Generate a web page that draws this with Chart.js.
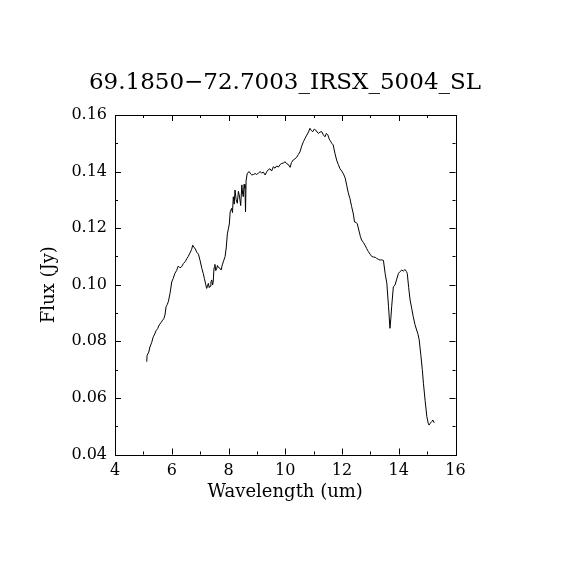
<!DOCTYPE html>
<html>
<head>
<meta charset="utf-8">
<script src="https://cdn.jsdelivr.net/npm/chart.js@4"></script>
<style>
  body { margin: 0; background: #fff; }
  #wrap { width: 570px; height: 570px; }
</style>
</head>
<body>
<div id="wrap"><canvas id="myChart" width="570" height="570"></canvas></div>
<script>
// spectrum
var wavelength = [5.12, 5.13, 5.19, 5.23, 5.29, 5.35, 5.40, 5.45, 5.50, 5.56, 5.62, 5.68, 5.72, 5.76, 5.80, 5.84, 5.88, 5.94, 6.00, 6.05,
  6.11, 6.17, 6.23, 6.29, 6.35, 6.41, 6.47, 6.53, 6.58, 6.64, 6.70, 6.74, 6.78, 6.82, 6.88, 6.94, 7.00, 7.06, 7.11, 7.15,
  7.20, 7.23, 7.26, 7.29, 7.32, 7.35, 7.38, 7.41, 7.44, 7.46, 7.49, 7.52, 7.55, 7.58, 7.61, 7.64, 7.70, 7.74, 7.78, 7.83,
  7.88, 7.92, 7.96, 8.00, 8.03, 8.06, 8.11, 8.14, 8.17, 8.20, 8.23, 8.27, 8.31, 8.35, 8.39, 8.43, 8.47, 8.50, 8.52, 8.55,
  8.58, 8.60, 8.62, 8.66, 8.73, 8.78, 8.82, 8.88, 8.94, 8.99, 9.05, 9.11, 9.17, 9.23, 9.29, 9.35, 9.40, 9.46, 9.52, 9.58,
  9.64, 9.70, 9.76, 9.82, 9.88, 9.94, 9.99, 10.05, 10.11, 10.17, 10.22, 10.28, 10.34, 10.40, 10.46, 10.52, 10.58, 10.64, 10.70, 10.76,
  10.82, 10.87, 10.92, 10.97, 11.02, 11.07, 11.12, 11.17, 11.23, 11.29, 11.34, 11.40, 11.45, 11.50, 11.55, 11.58, 11.64, 11.69, 11.75, 11.81,
  11.87, 11.93, 11.99, 12.05, 12.11, 12.17, 12.22, 12.28, 12.34, 12.40, 12.44, 12.50, 12.54, 12.60, 12.65, 12.69, 12.75, 12.81, 12.87, 12.93,
  12.99, 13.05, 13.11, 13.17, 13.22, 13.28, 13.34, 13.40, 13.46, 13.52, 13.58, 13.64, 13.69, 13.72, 13.75, 13.81, 13.87, 13.93, 13.99, 14.05,
  14.11, 14.16, 14.22, 14.27, 14.30, 14.35, 14.40, 14.46, 14.51, 14.57, 14.63, 14.68, 14.72, 14.78, 14.83, 14.87, 14.93, 14.99, 15.04, 15.07,
  15.12, 15.16, 15.20, 15.25];
var flux = [0.0728, 0.0750, 0.0762, 0.0780, 0.0795, 0.0816, 0.0826, 0.0838, 0.0845, 0.0858, 0.0866, 0.0875, 0.0880, 0.0893, 0.0922, 0.0930, 0.0940, 0.0970, 0.1010, 0.1022,
  0.1040, 0.1050, 0.1066, 0.1060, 0.1064, 0.1075, 0.1081, 0.1092, 0.1100, 0.1112, 0.1125, 0.1140, 0.1132, 0.1129, 0.1115, 0.1108, 0.1085, 0.1058, 0.1040, 0.1022,
  0.1000, 0.0987, 0.0995, 0.1005, 0.0990, 0.0995, 0.1010, 0.1017, 0.1000, 0.1008, 0.1060, 0.1072, 0.1050, 0.1055, 0.1068, 0.1062, 0.1058, 0.1052, 0.1070, 0.1085,
  0.1100, 0.1130, 0.1180, 0.1200, 0.1215, 0.1258, 0.1270, 0.1255, 0.1311, 0.1285, 0.1335, 0.1300, 0.1288, 0.1330, 0.1310, 0.1280, 0.1353, 0.1320, 0.1311, 0.1355,
  0.1340, 0.1258, 0.1367, 0.1394, 0.1400, 0.1392, 0.1388, 0.1390, 0.1393, 0.1390, 0.1394, 0.1400, 0.1395, 0.1398, 0.1388, 0.1400, 0.1406, 0.1410, 0.1402, 0.1417,
  0.1412, 0.1420, 0.1416, 0.1425, 0.1429, 0.1430, 0.1435, 0.1428, 0.1425, 0.1415, 0.1432, 0.1441, 0.1445, 0.1450, 0.1460, 0.1470, 0.1490, 0.1506, 0.1518, 0.1529,
  0.1540, 0.1553, 0.1545, 0.1541, 0.1550, 0.1547, 0.1540, 0.1535, 0.1540, 0.1541, 0.1530, 0.1523, 0.1535, 0.1530, 0.1515, 0.1510, 0.1500, 0.1494, 0.1465, 0.1441,
  0.1425, 0.1410, 0.1402, 0.1392, 0.1378, 0.1350, 0.1325, 0.1305, 0.1276, 0.1250, 0.1222, 0.1220, 0.1215, 0.1190, 0.1170, 0.1158, 0.1150, 0.1140, 0.1128, 0.1117,
  0.1108, 0.1100, 0.1098, 0.1097, 0.1093, 0.1090, 0.1087, 0.1088, 0.1086, 0.1040, 0.1005, 0.0922, 0.0846, 0.0880, 0.0922, 0.0993, 0.0999, 0.1020, 0.1040, 0.1047,
  0.1052, 0.1048, 0.1054, 0.1047, 0.1040, 0.0990, 0.0946, 0.0915, 0.0887, 0.0860, 0.0840, 0.0825, 0.0805, 0.0750, 0.0700, 0.0652, 0.0590, 0.0534, 0.0510, 0.0504,
  0.0512, 0.0516, 0.0522, 0.0512];

var titleText = '69.1850\u221272.7003_IRSX_5004_SL';
var xLabel = 'Wavelength (um)';
var yLabel = 'Flux (Jy)';
var xTickLabels = [4, 6, 8, 10, 12, 14, 16];
var yTickLabels = [0.04, 0.06, 0.08, 0.10, 0.12, 0.14, 0.16];

var points = wavelength.map(function (w, i) { return { x: w, y: flux[i] }; });

Chart.defaults.color = '#000';
Chart.defaults.font.family = '"DejaVu Serif", serif';

// box around the plot and inward ticks on all four sides
var frameTicks = {
    id: 'frameTicks',
    afterDraw: function (chart) {
        var c = chart.ctx, a = chart.chartArea;
        var xs = chart.scales.x, ys = chart.scales.y;
        c.save();
        c.strokeStyle = '#000';
        c.lineWidth = 1;
        c.strokeRect(Math.round(a.left) + 0.5, Math.round(a.top) + 0.5,
            Math.round(a.right - a.left), Math.round(a.bottom - a.top));
        c.beginPath();
        for (var v = xTickLabels[0]; v <= xTickLabels[xTickLabels.length - 1]; v++) {
            var len = (v % 2 === 0) ? 6 : 3;
            var px = Math.round(xs.getPixelForValue(v)) + 0.5;
            c.moveTo(px, a.bottom); c.lineTo(px, a.bottom - len);
            c.moveTo(px, a.top); c.lineTo(px, a.top + len);
        }
        for (var k = 4; k <= 16; k++) {
            var l2 = (k % 2 === 0) ? 6 : 3;
            var py = Math.round(ys.getPixelForValue(k / 100)) + 0.5;
            c.moveTo(a.left, py); c.lineTo(a.left + l2, py);
            c.moveTo(a.right, py); c.lineTo(a.right - l2, py);
        }
        c.stroke();
        c.restore();
    }
};

var ctx = document.getElementById('myChart').getContext('2d');
var chart = new Chart(ctx, {
    type: 'line',
    data: {
        datasets: [{
            data: points,
            borderColor: '#000',
            borderWidth: 1,
            pointRadius: 0,
            tension: 0,
            fill: false
        }]
    },
    options: {
        responsive: false,
        animation: false,
        devicePixelRatio: 1,
        layout: { padding: 0 },
        plugins: {
            legend: { display: false },
            tooltip: { enabled: false },
            title: {
                display: true,
                text: titleText,
                font: { size: 23, weight: 'normal' },
                padding: { top: 69, bottom: 115 - 69 - 27.6 }
            }
        },
        scales: {
            x: {
                type: 'linear',
                min: 4, max: 16,
                ticks: { stepSize: 2, padding: 7, font: { size: 16 } },
                grid: { display: false, drawTicks: false },
                border: { display: false },
                title: { display: true, text: xLabel, font: { size: 18 }, padding: { top: 0, bottom: 67 } },
                afterFit: function (s) { s.height = 115.5; }
            },
            y: {
                min: 0.04, max: 0.16,
                ticks: { stepSize: 0.02, padding: 8, font: { size: 16 },
                    callback: function (v) { return v.toFixed(2); } },
                grid: { display: false, drawTicks: false },
                border: { display: false },
                title: { display: true, text: yLabel, font: { size: 18 }, padding: { top: 39, bottom: 0 } },
                afterFit: function (s) { s.width = 115; }
            },
            y2: {
                position: 'right',
                display: true,
                ticks: { display: false },
                grid: { display: false, drawTicks: false },
                border: { display: false },
                afterFit: function (s) { s.width = 114.5; }
            }
        }
    },
    plugins: [frameTicks]
});
</script>
</body>
</html>
